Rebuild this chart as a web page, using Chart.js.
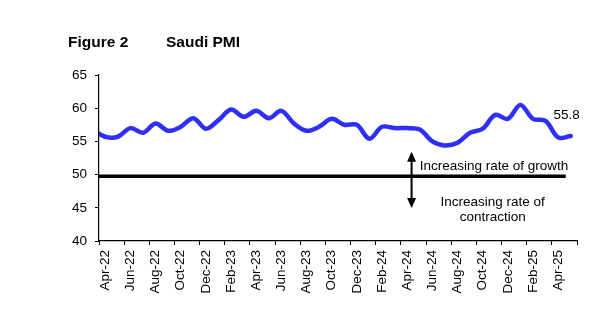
<!DOCTYPE html>
<html>
<head>
<meta charset="utf-8">
<script src="https://cdn.jsdelivr.net/npm/chart.js@4.4.1/dist/chart.umd.min.js"></script>
<style>
  body { margin: 0; background: #fff; }
</style>
</head>
<body>
<canvas id="myChart" width="592" height="326"></canvas>
<script>
// monthly Saudi PMI, Mar-22 is only partly visible at the left edge
const months = ['Mar-22', 'Apr-22', 'May-22', 'Jun-22', 'Jul-22', 'Aug-22', 'Sep-22', 'Oct-22', 'Nov-22', 'Dec-22',
    'Jan-23', 'Feb-23', 'Mar-23', 'Apr-23', 'May-23', 'Jun-23', 'Jul-23', 'Aug-23', 'Sep-23', 'Oct-23', 'Nov-23', 'Dec-23',
    'Jan-24', 'Feb-24', 'Mar-24', 'Apr-24', 'May-24', 'Jun-24', 'Jul-24', 'Aug-24', 'Sep-24', 'Oct-24', 'Nov-24', 'Dec-24',
    'Jan-25', 'Feb-25', 'Mar-25', 'Apr-25', 'May-25'];
const pmi = [56.8, 55.7, 55.7, 57.0, 56.3, 57.7, 56.6, 57.2, 58.5, 56.9,
    58.2, 59.8, 58.7, 59.6, 58.5, 59.6, 57.7, 56.6, 57.2, 58.4, 57.5, 57.5,
    55.4, 57.2, 57.0, 57.0, 56.8, 55.0, 54.4, 54.8, 56.3, 56.9, 59.0, 58.4,
    60.5, 58.4, 58.1, 55.6, 55.8];
const tickLabels = ['Apr-22', 'Jun-22', 'Aug-22', 'Oct-22', 'Dec-22', 'Feb-23', 'Apr-23', 'Jun-23', 'Aug-23', 'Oct-23',
    'Dec-23', 'Feb-24', 'Apr-24', 'Jun-24', 'Aug-24', 'Oct-24', 'Dec-24', 'Feb-25', 'Apr-25', ''];
const yTicks = [40, 45, 50, 55, 60, 65];
const threshold = 49.75;
const lastLabel = '55.8';

// Apr-22 sits at x = 0
const points = pmi.map((v, i) => ({ x: i - 1, y: v }));

const FONT = "'Liberation Sans', Arial, sans-serif";
Chart.defaults.font.family = FONT;
Chart.defaults.font.size = 13.5;
Chart.defaults.color = '#000';

// titles, arrow and notes
const extras = {
    id: 'extras',
    afterDatasetsDraw(chart) {
        const ctx = chart.ctx;
        const xs = chart.scales.x, ys = chart.scales.y;
        ctx.save();
        ctx.fillStyle = '#000';
        ctx.font = 'bold 15.5px ' + FONT;
        ctx.textBaseline = 'middle';
        ctx.textAlign = 'left';
        ctx.fillText('Figure 2', 68, 43);
        ctx.fillText('Saudi PMI', 166, 43);

        // double arrow
        const ax = xs.getPixelForValue(24.35);
        const top = ys.getPixelForValue(53.45);
        const bot = ys.getPixelForValue(44.97);
        ctx.strokeStyle = '#000';
        ctx.lineWidth = 2;
        ctx.beginPath();
        ctx.moveTo(ax, top + 8);
        ctx.lineTo(ax, bot - 8);
        ctx.stroke();
        ctx.beginPath();
        ctx.moveTo(ax, top);
        ctx.lineTo(ax - 4.5, top + 10);
        ctx.lineTo(ax + 4.5, top + 10);
        ctx.closePath();
        ctx.fill();
        ctx.beginPath();
        ctx.moveTo(ax, bot);
        ctx.lineTo(ax - 4.5, bot - 10);
        ctx.lineTo(ax + 4.5, bot - 10);
        ctx.closePath();
        ctx.fill();

        ctx.font = '13.5px ' + FONT;
        ctx.textAlign = 'left';
        ctx.fillText('Increasing rate of growth', xs.getPixelForValue(25.0), ys.getPixelForValue(51.3));
        ctx.textAlign = 'center';
        ctx.fillText('Increasing rate of', xs.getPixelForValue(30.8), ys.getPixelForValue(45.9));
        ctx.fillText('contraction', xs.getPixelForValue(30.8), ys.getPixelForValue(43.5));

        // last value
        const meta = chart.getDatasetMeta(0);
        const last = meta.data[meta.data.length - 1];
        ctx.fillText(lastLabel, last.x - 4, last.y - 21);
        ctx.restore();
    }
};

const ctx = document.getElementById('myChart').getContext('2d');
const myChart = new Chart(ctx, {
    type: 'line',
    data: {
        datasets: [{
            label: 'Saudi PMI',
            data: points,
            borderColor: '#2f2ff7',
            borderWidth: 4.5,
            tension: 0.35,
            pointRadius: 0,
            borderCapStyle: 'round',
            borderJoinStyle: 'round'
        }, {
            label: 'threshold',
            data: [{ x: -0.5, y: threshold }, { x: 36.6, y: threshold }],
            borderColor: '#000',
            borderWidth: 3.5,
            pointRadius: 0,
            tension: 0
        }]
    },
    options: {
        responsive: false,
        animation: false,
        layout: {
            padding: { left: 0, top: 75, right: 15, bottom: 0 }
        },
        plugins: {
            legend: { display: false },
            tooltip: { enabled: false }
        },
        scales: {
            x: {
                type: 'linear',
                min: -0.5,
                max: 37.5,
                afterBuildTicks: function(scale) {
                    scale.ticks = tickLabels.map((l, k) => ({ value: -0.5 + 2 * k }));
                },
                afterFit: function(scale) {
                    scale.height = 85;
                    scale.paddingLeft = 0;
                    scale.paddingRight = 0;
                },
                ticks: {
                    autoSkip: false,
                    minRotation: 90,
                    maxRotation: 90,
                    padding: 5,
                    labelOffset: 6.3,
                    callback: function(value, index) { return tickLabels[index] || ''; }
                },
                grid: {
                    drawOnChartArea: false,
                    drawTicks: true,
                    tickLength: 4,
                    color: '#000'
                },
                border: { color: '#000', width: 1.2 }
            },
            y: {
                min: 40,
                max: 65,
                afterBuildTicks: function(scale) {
                    scale.ticks = yTicks.map(v => ({ value: v }));
                },
                afterFit: function(scale) { scale.width = 99; },
                ticks: { padding: 8 },
                grid: {
                    drawOnChartArea: false,
                    drawTicks: true,
                    tickLength: 4,
                    color: '#000'
                },
                border: { color: '#000', width: 1.2 }
            }
        }
    },
    plugins: [extras]
});
</script>
</body>
</html>
